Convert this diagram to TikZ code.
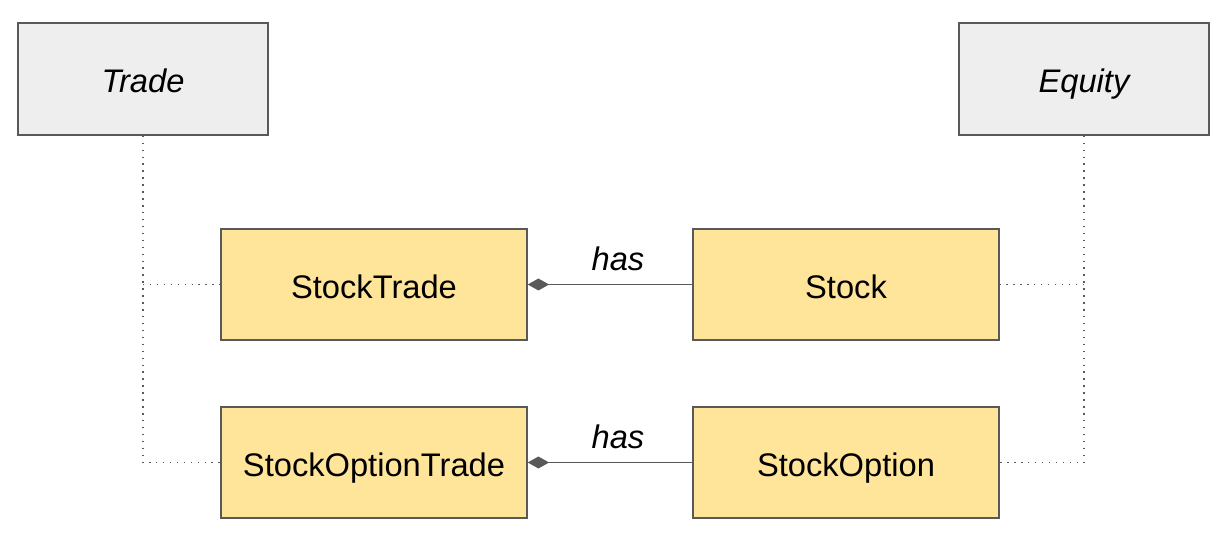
\documentclass[tikz,border=0pt]{standalone}
\usepackage{fontspec}
\setmainfont{Liberation Sans}
\usetikzlibrary{positioning,arrows.meta}
\definecolor{classyellow}{HTML}{FFE599}
\definecolor{abstractgray}{HTML}{EEEEEE}
\definecolor{linegray}{HTML}{595959}

\begin{document}
\begin{tikzpicture}[
    x=0.75pt, y=0.75pt,
    font=\fontsize{24.5}{29}\selectfont,
    class/.style={rectangle,draw=linegray,line width=1.1pt,fill=classyellow,minimum width=229.5pt,minimum height=83.25pt,inner sep=0pt,text height=23.5pt,text depth=2pt},
    abstract/.style={rectangle,draw=linegray,line width=1.1pt,fill=abstractgray,minimum width=187.5pt,minimum height=84pt,inner sep=0pt,text height=22pt,text depth=2pt,font=\fontsize{24.5}{29}\selectfont\itshape},
    inherit/.style={draw=linegray,line width=1.1pt,dash pattern=on 1.1pt off 4.1pt},
    has/.style={draw=linegray,line width=1.1pt,{Diamond[length=16pt,width=9pt,fill=linegray]}-},
    haslabel/.style={above=9.5pt,xshift=6pt,inner sep=0pt,font=\fontsize{24.5}{29}\selectfont\itshape},
]
\useasboundingbox (0,0) rectangle (1227,539);

% base classes
\node[abstract] (trade) at (143,460) {Trade};
\node[abstract] (equity) at (1084,460) {Equity};

% concrete classes
\node[class] (stocktrade) at (374,254.5) {StockTrade};
\node[class] (optiontrade) at (374,76.5) {StockOptionTrade};
\node[class] (stock) at (846,254.5) {Stock};
\node[class] (option) at (846,76.5) {StockOption};

% inheritance (dotted)
\draw[inherit] (trade.south) -- (trade.south |- optiontrade.west) coordinate (tradecorner) -- (optiontrade.west);
\draw[inherit] (trade.south |- stocktrade.west) -- (stocktrade.west);
\draw[inherit] (equity.south) -- (equity.south |- option.east) coordinate (equitycorner) -- (option.east);
\draw[inherit] (equity.south |- stock.east) -- (stock.east);

% composition
\draw[has] (stocktrade.east) -- node[haslabel] (hasstock) {has} (stock.west);
\draw[has] (optiontrade.east) -- node[haslabel] (hasoption) {has} (option.west);
\end{tikzpicture}
\end{document}
